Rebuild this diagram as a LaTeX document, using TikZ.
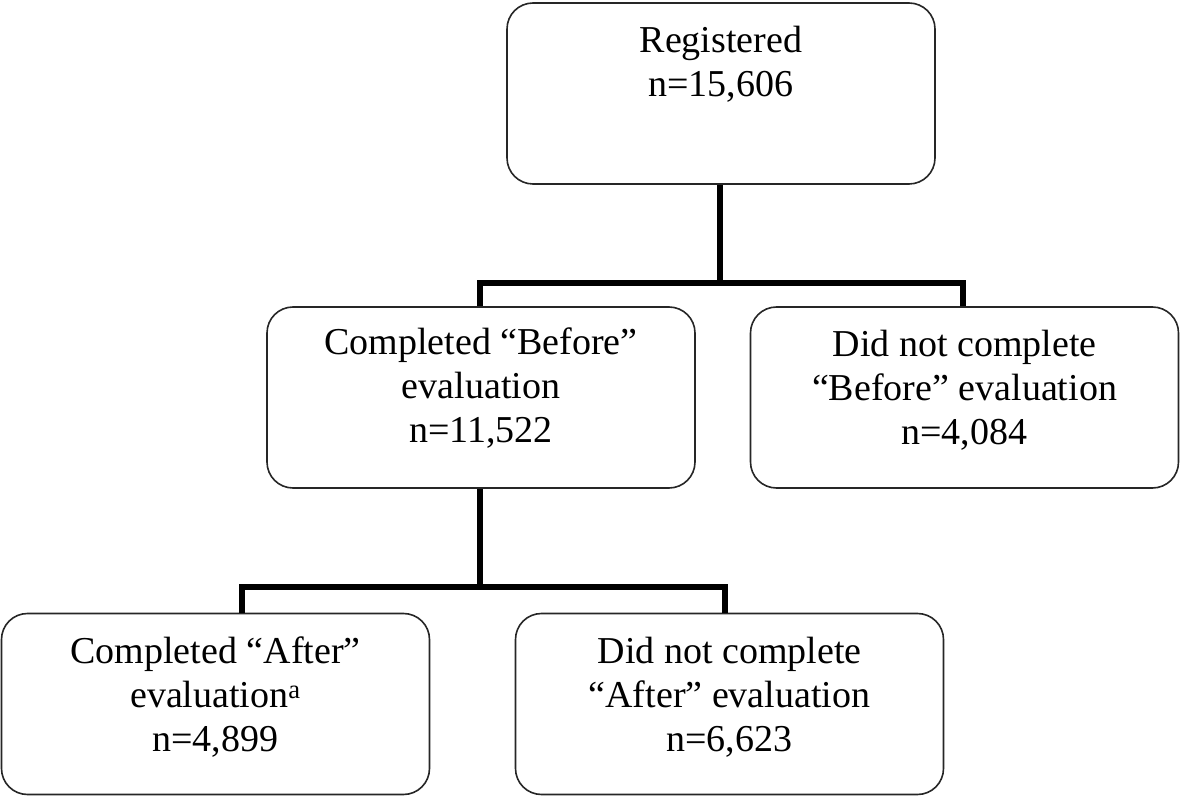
\documentclass[tikz,border=0pt]{standalone}
\usepackage{fontspec}
\setmainfont{Liberation Serif}
\begin{document}
\begin{tikzpicture}[x=1pt,y=-1pt,
  box/.style={draw=black!85, line width=1.6pt, rounded corners=26pt,
    minimum width=428pt, minimum height=181pt, inner sep=0pt},
  label/.style={align=center, font=\fontsize{38}{44}\selectfont, inner sep=0pt},
  conn/.style={draw=black, line width=5.5pt, line join=miter, line cap=butt}]
\useasboundingbox (0,0) rectangle (1181,799);
\node[box] (top)  at (721,93.5) {};
\node[box] (midL) at (481,397.5) {};
\node[box] (midR) at (964.5,397.5) {};
\node[box] (botL) at (215.5,704) {};
\node[box] (botR) at (729.5,704) {};
\node[label] (ttop)  at (721,64) {Registered\\n=15,606};
\node[label] (tmidL) at (481,388) {Completed “Before”\\evaluation\\n=11,522};
\node[label] (tmidR) at (964.5,390) {Did not complete\\“Before” evaluation\\n=4,084};
\node[label] (tbotL) at (215.5,697) {Completed “After”\\evaluation\textsuperscript{a}\\n=4,899};
\node[label] (tbotR) at (729.5,697) {Did not complete\\“After” evaluation\\n=6,623};
\coordinate (j1) at (720,283);
\coordinate (j2) at (480,587);
\coordinate (dL) at (242,613);
\coordinate (dR) at (725,613);
\draw[conn] (top.south -| j1) -- (j1);
\draw[conn] (midL.north -| 480,0) |- (j1) -| (midR.north -| 963,0);
\draw[conn] (midL.south -| j2) -- (j2);
\draw[conn] (dL) |- (j2) -| (dR);
\end{tikzpicture}
\end{document}
